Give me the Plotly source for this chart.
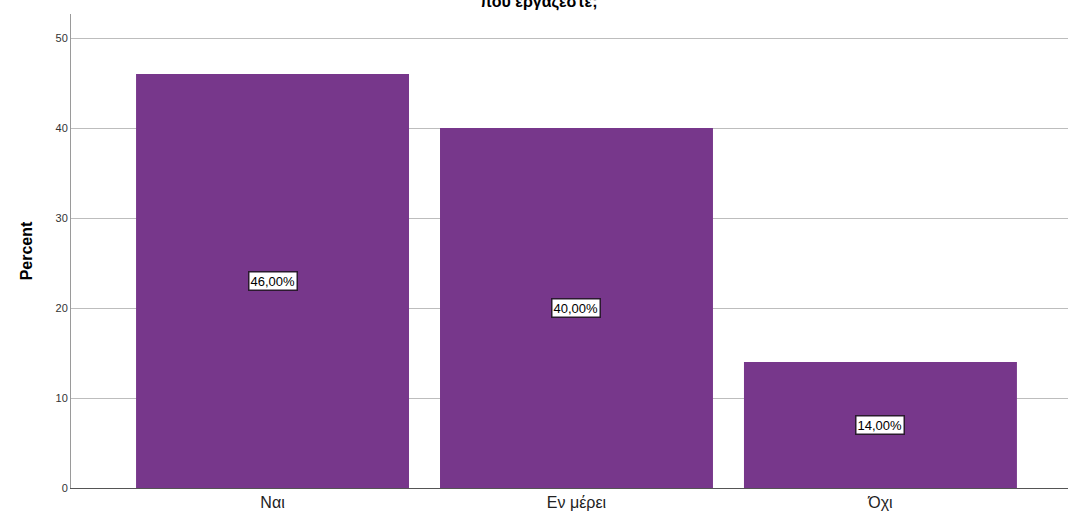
import plotly.graph_objects as go

categories = ["Ναι", "Εν μέρει", "Όχι"]
percent = [46.0, 40.0, 14.0]
value_labels = ["46,00%", "40,00%", "14,00%"]
y_ticks = [0, 10, 20, 30, 40, 50]

BAR_COLOR = "#77378B"

fig = go.Figure()
fig.add_trace(go.Bar(
    x=categories,
    y=percent,
    marker=dict(color=BAR_COLOR, line=dict(width=0)),
    hoverinfo="skip",
))

# value boxes centred in each bar
for cat, val, lab in zip(categories, percent, value_labels):
    fig.add_annotation(
        x=cat, y=val / 2, xref="x", yref="y",
        text=lab, showarrow=False,
        font=dict(family="Arial, Liberation Sans", size=13, color="#000000"),
        bgcolor="#ffffff", bordercolor="#2a1a2e", borderwidth=1.5, borderpad=1,
    )

# heading, clipped by the top edge of the page
fig.add_annotation(
    x=0.469, y=1.0, xref="paper", yref="paper",
    yshift=1, yanchor="bottom", xanchor="center",
    text="που εργάζεστε;", showarrow=False,
    font=dict(family="Arial, Liberation Sans", size=16, color="#000000", weight="bold"),
)

fig.update_layout(
    width=1072, height=518,
    margin=dict(l=71, r=4, t=14, b=30),
    paper_bgcolor="#ffffff", plot_bgcolor="#ffffff",
    bargap=0.102,
    showlegend=False,
    font=dict(family="Arial, Liberation Sans"),
)
fig.update_xaxes(
    range=[-0.663, 2.617],
    showgrid=False, showline=True, linecolor="#555555", linewidth=1,
    ticks="", tickfont=dict(size=16, color="#222222"),
    fixedrange=True,
)
fig.update_yaxes(
    range=[0, 52.67],
    tickvals=y_ticks,
    showgrid=True, gridcolor="#bdbdbd", gridwidth=1,
    showline=True, linecolor="#9a9a9a", linewidth=1,
    zeroline=False, ticks="",
    tickfont=dict(size=11, color="#333333"),
    title=dict(text="<b>Percent</b>", font=dict(size=16, color="#000000"), standoff=18),
    fixedrange=True,
)

fig.write_html("out.html")
